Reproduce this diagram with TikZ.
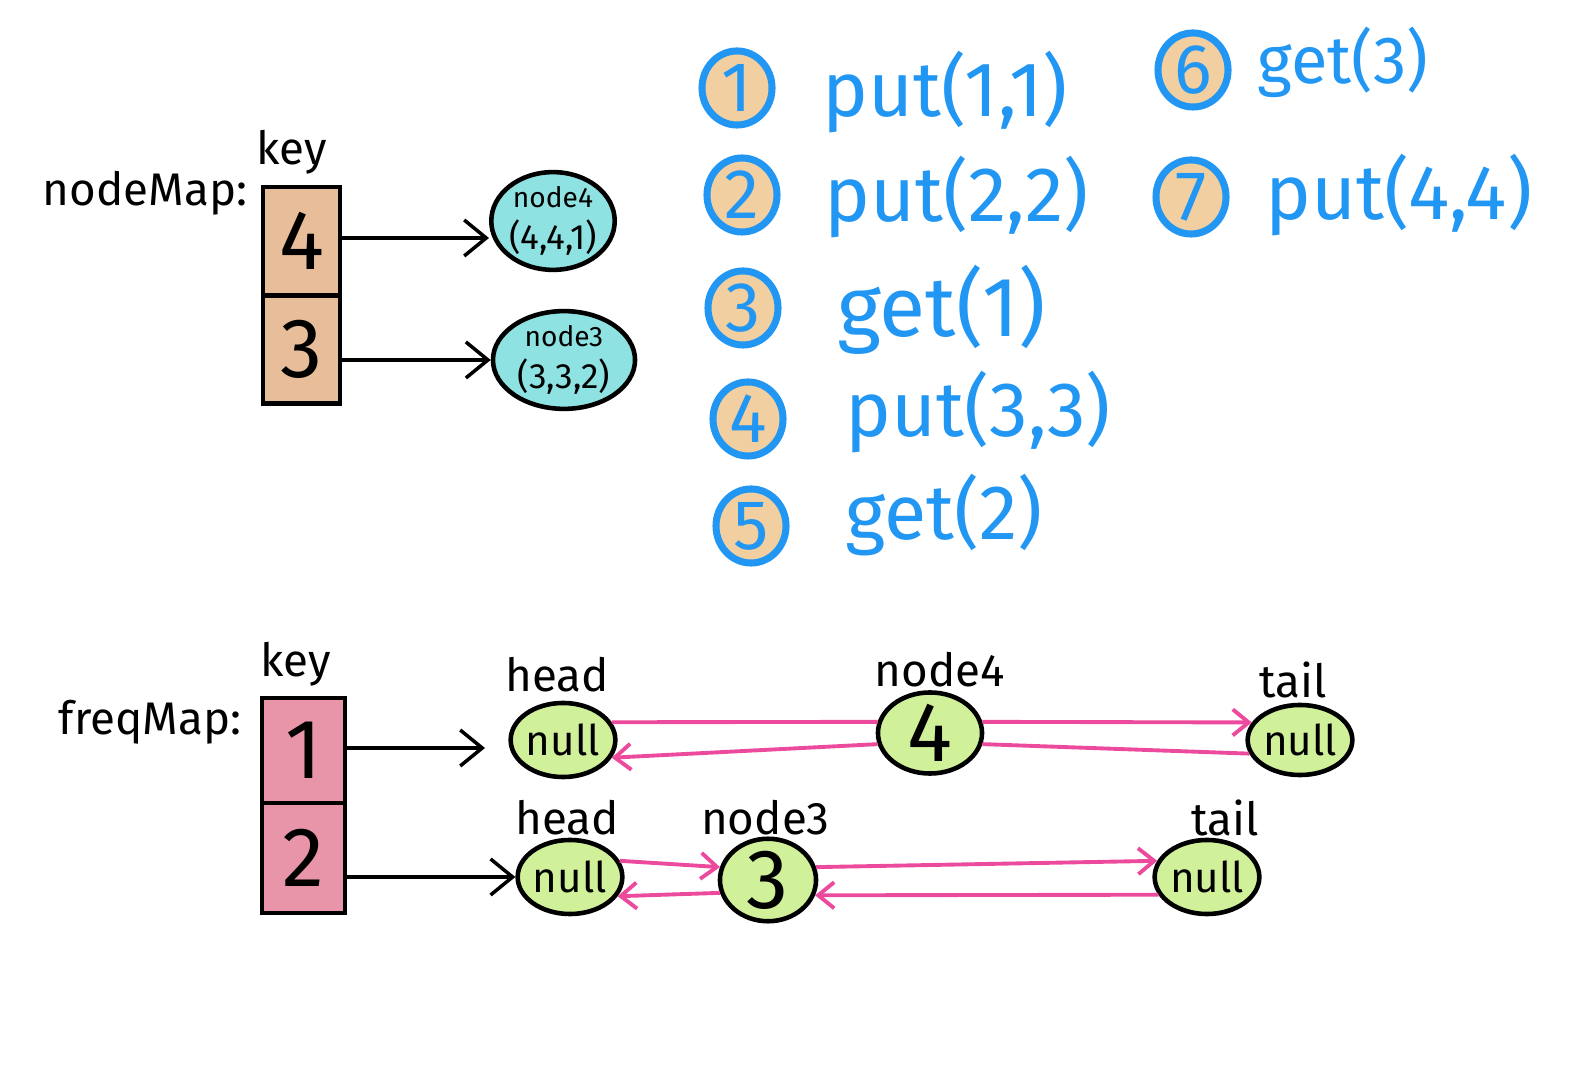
\documentclass[tikz,border=0pt]{standalone}
\usepackage{fontspec}
\setmainfont{Fira Sans}
\usetikzlibrary{shapes.geometric,arrows.meta}
\definecolor{tan}{HTML}{E8BE9A}
\definecolor{pinkbox}{HTML}{E895AA}
\definecolor{cyanfill}{HTML}{8EE2E2}
\definecolor{greenfill}{HTML}{D0F09A}
\definecolor{stepfill}{HTML}{F2CFA0}
\definecolor{stepblue}{HTML}{2196F3}
\definecolor{linkpink}{HTML}{EC4A9C}
\tikzset{
    cell/.style={draw, line width=1.3pt, minimum width=0.77cm, minimum height=1.08cm, inner sep=0pt, font=\fontsize{24}{28}\selectfont},
    mapnode/.style={ellipse, draw, line width=1.3pt, fill=cyanfill, inner sep=0pt, align=center, font=\fontsize{10}{12}\selectfont},
    listnode/.style={ellipse, draw, line width=1.3pt, fill=greenfill, inner sep=0pt, font=\fontsize{12}{14}\selectfont},
    stepnum/.style={ellipse, draw=stepblue, line width=2pt, fill=stepfill, minimum width=0.7cm, minimum height=0.74cm, inner sep=0pt, text=stepblue, font=\fontsize{20}{24}\selectfont},
    stepcall/.style={anchor=west, text=stepblue, font=\fontsize{22}{26}\selectfont},
    hand/.style={font=\fontsize{13}{16}\selectfont},
    link/.style={linkpink, line width=1.1pt, >={Straight Barb[length=1.6mm, width=2.6mm]}},
}
\begin{document}
\begin{tikzpicture}[x=0.01cm, y=-0.01cm, >={Straight Barb[length=2.2mm, width=3.6mm]}]
    \useasboundingbox (0, 0) rectangle (1576, 1071);

    % nodeMap
    \node[hand] (nodemap) at (145, 193) {nodeMap:};
    \node[hand] (key1) at (292, 152) {key};
    \node[cell, fill=tan] (k4) at (301.5, 241) {4};
    \node[cell, fill=tan] (k3) at (301.5, 349.5) {3};

    \node[mapnode, minimum width=1.1cm, minimum height=0.9cm] (n4) at (553, 221) {{\fontsize{8}{9}\selectfont node4}\\(4,4,1)};
    \node[mapnode, minimum width=1.42cm, minimum height=0.88cm] (n3) at (564, 360) {{\fontsize{8}{9}\selectfont node3}\\(3,3,2)};

    \draw[->, line width=1pt] (k4.east |- 0, 238) -- (n4.west |- 0, 238);
    \draw[->, line width=1pt] (k3.east |- n3.west) -- (n3.west);

    % operations
    \node[stepnum] (s1) at (737, 88) {1};
    \node[stepcall] (o1) at (810, 92) {put(1,1)};
    \node[stepnum] (s2) at (742, 195) {2};
    \node[stepcall] (o2) at (812, 197) {put(2,2)};
    \node[stepnum] (s3) at (743, 308) {3};
    \node[stepcall, font=\fontsize{24}{28}\selectfont] (o3) at (825, 310) {get(1)};
    \node[stepnum] (s4) at (748, 419) {4};
    \node[stepcall] (o4) at (833, 412) {put(3,3)};
    \node[stepnum] (s5) at (751, 526) {5};
    \node[stepcall] (o5) at (833, 515) {get(2)};
    \node[stepnum] (s6) at (1193, 70) {6};
    \node[stepcall, font=\fontsize{19}{23}\selectfont] (o6) at (1245, 62) {get(3)};
    \node[stepnum] (s7) at (1191, 197) {7};
    \node[stepcall] (o7) at (1253, 195) {put(4,4)};

    % freqMap
    \node[hand] (freqmap) at (150, 722) {freqMap:};
    \node[hand] (key2) at (296, 664) {key};
    \node[cell, fill=pinkbox, minimum width=0.83cm, minimum height=1.05cm] (f1) at (303.5, 750.5) {1};
    \node[cell, fill=pinkbox, minimum width=0.83cm, minimum height=1.1cm] (f2) at (303.5, 858) {2};

    \node[listnode, minimum width=0.9cm, minimum height=0.74cm] (head1) at (563, 740) {null};
    \node[listnode, minimum width=1.04cm, minimum height=0.76cm, font=\fontsize{24}{28}\selectfont] (node4) at (930, 733) {4};
    \node[listnode, minimum width=0.86cm, minimum height=0.7cm] (tail1) at (1300, 740) {null};
    \node[listnode, minimum width=1.04cm, minimum height=0.74cm] (head2) at (570, 877) {null};
    \node[listnode, minimum width=0.96cm, minimum height=0.66cm, font=\fontsize{24}{28}\selectfont] (node3) at (768, 880) {3};
    \node[listnode, minimum width=1.0cm, minimum height=0.74cm] (tail2) at (1207, 877) {null};

    \node[hand] (h1) at (557, 675) {head};
    \node[hand] (l4) at (940, 670) {node4};
    \node[hand] (t1) at (1293, 680) {tail};
    \node[hand] (h2) at (567, 818) {head};
    \node[hand] (l3) at (765, 818) {node3};
    \node[hand] (t2) at (1225, 818) {tail};

    \draw[->, line width=1pt] (f1.east |- 0, 748) -- (485, 748);
    \draw[->, line width=1pt] (f2.east |- head2.west) -- (head2.west);

    \draw[link] (head1.20) -- (node4.168);
    \draw[link, ->] (node4.192) -- (head1.-20);
    \draw[link, ->] (node4.12) -- (tail1.160);
    \draw[link] (tail1.-165) -- (node4.-12);
    \draw[link, ->] (head2.18) -- (node3.165);
    \draw[link, ->] (node3.-165) -- (head2.-22);
    \draw[link, ->] (node3.15) -- (tail2.162);
    \draw[link, ->] (tail2.-160) -- (node3.-18);
\end{tikzpicture}
\end{document}
